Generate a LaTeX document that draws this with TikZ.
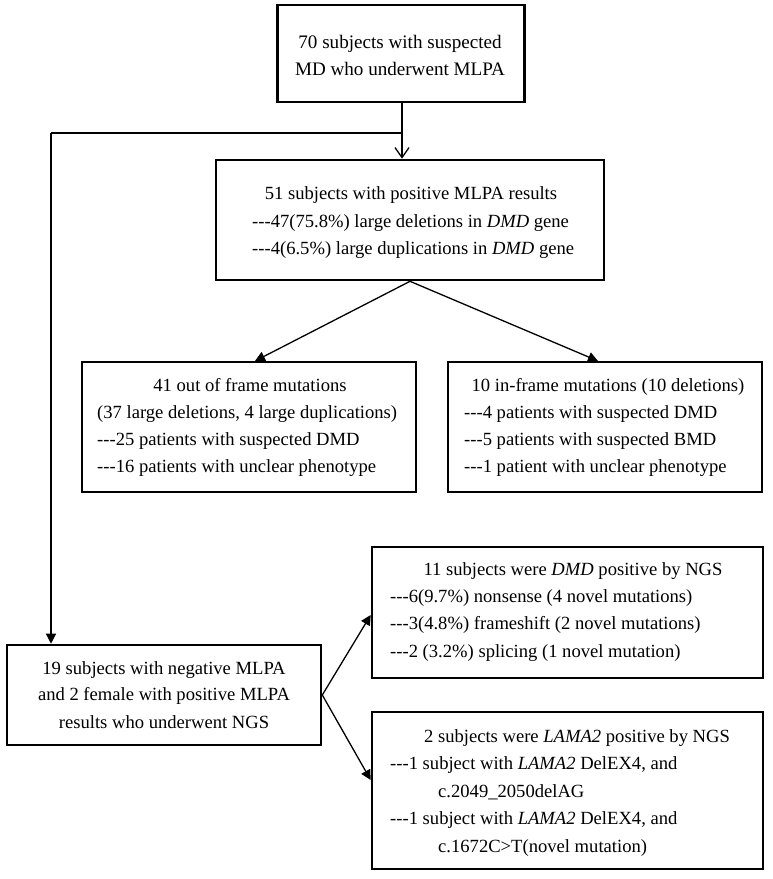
\documentclass[tikz,border=0pt]{standalone}
\usepackage{fontspec}
\setmainfont{Liberation Serif}[Ligatures=TeXOff]
\usetikzlibrary{arrows.meta,calc}
\begin{document}
\begin{tikzpicture}[x=1pt,y=-1pt,
  thickbox/.style={draw,rectangle,line width=2.6pt,inner sep=0pt},
  thinbox/.style={draw,rectangle,line width=2pt,inner sep=0pt},
  txt/.style={inner sep=0pt,font=\fontsize{18.6}{27}\selectfont},
  bigtxt/.style={inner sep=0pt,font=\fontsize{19.1}{27}\selectfont},
  conn/.style={line width=1.3pt,-{Triangle[length=10pt,width=10pt]}},
  openconn/.style={line width=1.3pt,-{Straight Barb[length=10pt,width=14pt,line width=1.3pt]}}]
\useasboundingbox (0,0) rectangle (772,879);
% boxes
\node[thickbox,minimum width=247pt,minimum height=97pt] (b1) at (401,53.5) {};
\node[thickbox,minimum width=388pt,minimum height=120pt] (b2) at (410,220) {};
\node[thinbox,minimum width=334pt,minimum height=130pt] (b3) at (249,427) {};
\node[thinbox,minimum width=314pt,minimum height=130pt] (b4) at (605,427) {};
\node[thickbox,minimum width=391pt,minimum height=131pt] (b5) at (567.5,612.5) {};
\node[thickbox,minimum width=314pt,minimum height=100pt] (b6) at (164,695) {};
\node[thickbox,minimum width=391pt,minimum height=157pt] (b7) at (567.5,790.5) {};
% texts
\node[bigtxt,anchor=base] (t1a) at (400,48) {70 subjects with suspected};
\node[bigtxt,anchor=base] (t1b) at (400,75) {MD who underwent MLPA};
\node[txt,anchor=base] (t2a) at (411,199) {51 subjects with positive MLPA results};
\node[txt,anchor=base west] (t2b) at (252,227) {---47(75.8\%) large deletions in \textit{DMD} gene};
\node[txt,anchor=base west] (t2c) at (252,254) {---4(6.5\%) large duplications in \textit{DMD} gene};
\node[txt,anchor=base] (t3a) at (250,391) {41 out of frame mutations};
\node[txt,anchor=base west] (t3b) at (97,418) {(37 large deletions, 4 large duplications)};
\node[txt,anchor=base west] (t3c) at (97,445) {---25 patients with suspected DMD};
\node[txt,anchor=base west] (t3d) at (97,472) {---16 patients with unclear phenotype};
\node[txt,anchor=base] (t4a) at (608,391) {10 in-frame mutations (10 deletions)};
\node[txt,anchor=base west] (t4b) at (464,418) {---4 patients with suspected DMD};
\node[txt,anchor=base west] (t4c) at (464,445) {---5 patients with suspected BMD};
\node[txt,anchor=base west] (t4d) at (464,472) {---1 patient with unclear phenotype};
\node[txt,anchor=base] (t5a) at (573,575) {11 subjects were \textit{DMD} positive by NGS};
\node[txt,anchor=base west] (t5b) at (390,602) {---6(9.7\%) nonsense (4 novel mutations)};
\node[txt,anchor=base west] (t5c) at (390,629) {---3(4.8\%) frameshift (2 novel mutations)};
\node[txt,anchor=base west] (t5d) at (390,657) {---2 (3.2\%) splicing (1 novel mutation)};
\node[txt,anchor=base] (t6a) at (164,674) {19 subjects with negative MLPA};
\node[txt,anchor=base] (t6b) at (164,700) {and 2 female with positive MLPA};
\node[txt,anchor=base] (t6c) at (164,728) {results who underwent NGS};
\node[txt,anchor=base] (t7a) at (577,742) {2 subjects were \textit{LAMA2} positive by NGS};
\node[txt,anchor=base west] (t7b) at (390,769) {---1 subject with \textit{LAMA2} DelEX4, and};
\node[txt,anchor=base west] (t7c) at (438,797) {c.2049\_2050delAG};
\node[txt,anchor=base west] (t7d) at (390,824) {---1 subject with \textit{LAMA2} DelEX4, and};
\node[txt,anchor=base west] (t7e) at (438,852) {c.1672C>T(novel mutation)};
% connectors
\coordinate (s1) at ($(b1.south)+(1,0)$);
\coordinate (j1) at (402,133);
\coordinate (c1) at (51,133);
\draw[openconn] (s1) -- (s1 |- b2.north);
\draw[line width=1.3pt] (j1) -- (c1);
\draw[conn] (c1) -- (c1 |- b6.north);
\draw[conn] (b2.south) -- ($(b3.north)+(6,0)$);
\draw[conn] (b2.south) -- ($(b4.north)+(-7,0)$);
\draw[conn] (b6.east) -- ($(b5.west)+(0,2.5)$);
\draw[conn] (b6.east) -- ($(b7.west)+(0,-10.5)$);
\end{tikzpicture}
\end{document}
